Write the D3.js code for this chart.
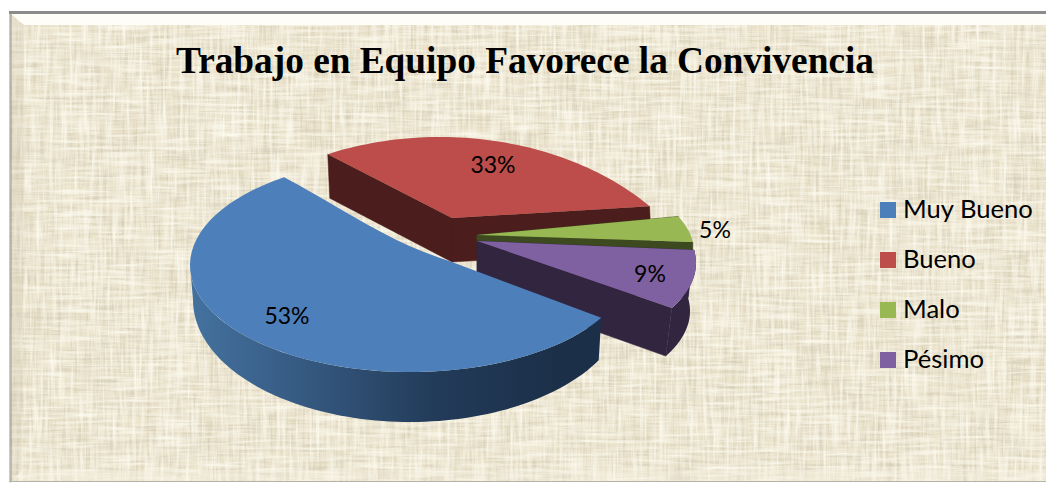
<!DOCTYPE html>
<html>
<head>
<meta charset="utf-8">
<script src="https://cdn.jsdelivr.net/npm/d3@7"></script>
<style>html,body{margin:0;padding:0;background:#fff}svg{display:block}</style>
</head>
<body>
<div id="c"></div>
<script>
const titleText = "Trabajo en Equipo Favorece la Convivencia";
const categories = ["Muy Bueno", "Bueno", "Malo", "Pésimo"];
const values = [53, 33, 5, 9];
const faceColors = ["#4d7fba", "#bd4d4a", "#97b853", "#7f60a0"];
const wallColors = ["#1c3049", "#4b1d1c", "#3d4a20", "#32253f"];

const W = 1046, H = 483;
const rad = d => d * Math.PI / 180;

// Perspective frames of the exploded slices: each has its own apex and rim ellipse.
const frames = [
  {apex:[452,262], c:[410,265], rx:220, ry:107, phi0:119.6, k:1.077},
  {apex:[452,218], c:[440,337], rx:277, ry:200, phi0:-23.9, k:0.615},
  {apex:[477,235], c:[477,252], rx:217, ry:95,  phi0:68,    k:0.89},
  {apex:[477,241], c:[480,263], rx:216, ry:98,  phi0:82.4,  k:1.08}
];
const wallDepth = [44, 44, 8, 48];

const svg = d3.select("#c").append("svg").attr("width", W).attr("height", H);
const defs = svg.append("defs");

function streak(id, fx, fy, seed, matrix) {
  const f = defs.append("filter").attr("id", id)
    .attr("x", 0).attr("y", 0).attr("width", 1).attr("height", 1);
  f.append("feTurbulence").attr("type", "fractalNoise")
    .attr("baseFrequency", fx + " " + fy).attr("numOctaves", 3).attr("seed", seed);
  f.append("feColorMatrix").attr("type", "matrix").attr("values", matrix);
  f.append("feGaussianBlur").attr("stdDeviation", 0.6);
}
const darkM = "0 0 0 0 .66  0 0 0 0 .60  0 0 0 0 .46  1.9 0 0 0 -0.84";
const liteM = "0 0 0 0 .98  0 0 0 0 .96  0 0 0 0 .87  1.9 0 0 0 -0.80";
streak("tV", 0.36, 0.024, 3, darkM);
streak("tH", 0.024, 0.36, 7, darkM);
streak("lV", 0.30, 0.02, 11, liteM);
streak("lH", 0.02, 0.30, 17, liteM);

const grad = defs.append("linearGradient").attr("id", "blueWall")
  .attr("gradientUnits", "userSpaceOnUse")
  .attr("x1", 190).attr("x2", 560).attr("y1", 0).attr("y2", 0);
[[0,"#44729f"],[0.3,"#365a82"],[0.65,"#233c5a"],[1,"#1b2f48"]].forEach(s =>
  grad.append("stop").attr("offset", s[0]).attr("stop-color", s[1]));

defs.append("filter").attr("id", "soft").append("feGaussianBlur").attr("stdDeviation", 0.8);

const bgX = 10, bgY = 12;
svg.append("rect").attr("x", bgX).attr("y", bgY).attr("width", W - bgX).attr("height", H - bgY - 1).attr("fill", "#ece4cd");
["tV","tH","lV","lH"].forEach(id =>
  svg.append("rect").attr("x", bgX).attr("y", bgY).attr("width", W - bgX).attr("height", H - bgY - 1).attr("filter", `url(#${id})`));

// Bevel of the frame
const line = d3.line();
svg.append("path").attr("d", line([[11,14],[W,14],[W,25],[24,25]]) + "Z").attr("fill", "#fffdf8");
svg.append("path").attr("d", line([[11,14],[24,25],[22,470],[11,481]]) + "Z").attr("fill", "#cfc7ae").attr("opacity", 0.3);
svg.append("path").attr("d", line([[11,481],[22,470],[W,470],[W,481]]) + "Z").attr("fill", "#f6f1e1").attr("opacity", 0.35);
svg.append("rect").attr("x", 9).attr("y", 11).attr("width", W - 9).attr("height", 3).attr("fill", "#8b8b8b");
svg.append("rect").attr("x", 9.5).attr("y", 12).attr("width", 2).attr("height", H - 13).attr("fill", "#8f8f8d").attr("filter", "url(#soft)");
svg.append("rect").attr("x", 9).attr("y", H - 2).attr("width", W - 9).attr("height", 1).attr("fill", "#b5b2a6");

// Pie
const pie = d3.pie().sort(null).startAngle(rad(126)).endAngle(rad(126 + 360)).value(d => d);
const arcs = pie(values);

function rimAt(i, phi) {
  const f = frames[i];
  return [f.c[0] + f.rx * Math.sin(rad(phi)), f.c[1] - f.ry * Math.cos(rad(phi))];
}
function phis(i) {
  const f = frames[i], a = arcs[i];
  const sweep = (a.endAngle - a.startAngle) * 180 / Math.PI * f.k;
  return {from: f.phi0, to: f.phi0 + sweep};
}
function rimPoints(i) {
  const p = phis(i);
  return d3.range(0, 61).map(n => rimAt(i, p.from + (p.to - p.from) * n / 60));
}
function topFace(i) {
  return line([frames[i].apex].concat(rimPoints(i))) + "Z";
}
const g = svg.append("g");
const shift = (pt, dx, dy) => [pt[0] + dx, pt[1] + dy];

function cutFaces(i, dx) {
  const p = phis(i), d = wallDepth[i], a = frames[i].apex;
  [p.from, p.to].forEach(phi => {
    const r = rimAt(i, phi);
    g.append("path").attr("d", line([a, r, shift(r, dx, d), shift(a, 0, d)]) + "Z")
      .attr("fill", wallColors[i]).attr("stroke", wallColors[i]).attr("stroke-width", 0.5);
  });
}

// Bueno
cutFaces(1, 2);
g.append("path").attr("d", topFace(1)).attr("fill", faceColors[1]);
// Malo
cutFaces(2, 0);
g.append("path").attr("d", topFace(2)).attr("fill", faceColors[2]);
// Pésimo
(function () {
  const i = 3, p = phis(i), d = wallDepth[i];
  cutFaces(i, -6);
  const top = d3.range(0, 41).map(n => rimAt(i, p.from + (p.to - p.from) * n / 40));
  g.append("path").attr("d", line(top.concat(top.slice().reverse().map(q => shift(q, -6, d)))) + "Z")
    .attr("fill", wallColors[i]);
  g.append("path").attr("d", topFace(i)).attr("fill", faceColors[i]);
})();
// Muy Bueno
(function () {
  const i = 0, p = phis(i);
  const depth = phi => 35 - 15 * Math.cos(rad(phi));
  const dx = phi => -3 * Math.sin(rad(phi));
  const ph = d3.range(0, 81).map(n => p.from + (270 - p.from) * n / 80);
  const top = ph.map(v => rimAt(i, v));
  const bot = ph.map(v => shift(rimAt(i, v), dx(v), depth(v)));
  g.append("path").attr("d", line(top.concat(bot.reverse())) + "Z").attr("fill", "url(#blueWall)");
  // The cut edge towards the apex sags slightly in the perspective of the original.
  const rim = rimPoints(i), end = rim[rim.length - 1], a = frames[i].apex;
  const sag = d3.range(1, 12).map(n => {
    const t = n / 12;
    return [end[0] + (a[0] - end[0]) * t, end[1] + (a[1] - end[1]) * t + 6 * Math.sin(Math.PI * Math.pow(t, 1.5))];
  });
  g.append("path").attr("d", line([a].concat(rim, sag)) + "Z").attr("fill", faceColors[i]);
})();

// Data labels
const fmt = d3.format(".0%");
const labelPos = [[287,324],[493,173],[715,238],[650,282]];
const labels = svg.append("g").attr("font-family", "Lato").attr("font-size", 23).attr("fill", "#000");
values.forEach((v, i) => {
  labels.append("text").attr("x", labelPos[i][0]).attr("y", labelPos[i][1])
    .attr("text-anchor", "middle").text(fmt(v / d3.sum(values)));
});

// Title
svg.append("text").attr("x", 525).attr("y", 73).attr("text-anchor", "middle")
  .attr("font-family", "Liberation Serif").attr("font-weight", "bold").attr("font-size", 37.3)
  .attr("fill", "#000").text(titleText);

// Legend
const legY = d3.scalePoint().domain(categories).range([210, 360]);
const leg = svg.append("g");
categories.forEach((c, i) => {
  leg.append("rect").attr("x", 880).attr("y", legY(c) - 8).attr("width", 16).attr("height", 16).attr("fill", faceColors[i]);
  leg.append("text").attr("x", 903).attr("y", legY(c) + 8).attr("font-family", "Lato").attr("font-size", 25.6)
    .attr("fill", "#000").text(c);
});
</script>
</body>
</html>
